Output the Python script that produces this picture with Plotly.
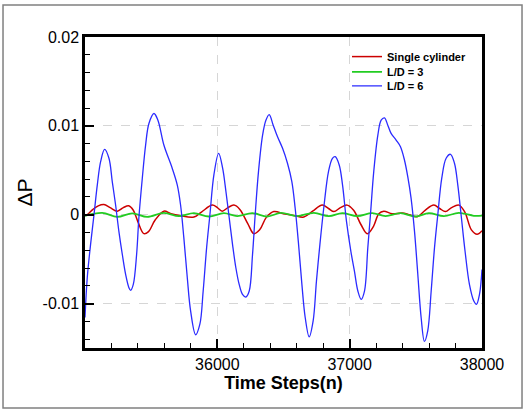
import plotly.graph_objects as go

# ---- data ----
blue_x = [35000, 35017, 35042, 35068, 35093, 35118, 35148, 35181, 35206, 35231,
          35256, 35282, 35307, 35332, 35345, 35365, 35390, 35407, 35433, 35458,
          35483, 35521, 35551, 35596, 35659, 35697, 35722, 35747, 35773, 35798,
          35836, 35868, 35893, 35919, 35944, 35974, 36010, 36040, 36065, 36090,
          36115, 36140, 36165, 36190, 36216, 36241, 36266, 36286, 36311, 36342,
          36367, 36392, 36422, 36455, 36493, 36530, 36563, 36588, 36614, 36639,
          36664, 36694, 36724, 36749, 36775, 36807, 36840, 36870, 36891, 36921,
          36946, 36976, 37010, 37036, 37062, 37087, 37112, 37137, 37157, 37182,
          37213, 37238, 37263, 37288, 37313, 37351, 37384, 37414, 37439, 37464,
          37490, 37515, 37540, 37565, 37590, 37616, 37641, 37666, 37696, 37729,
          37762, 37792, 37817, 37842, 37872, 37905, 37938, 37958, 37981, 38000]
blue_y = [-0.01157, -0.00709, -0.00336, 0.0, 0.00336, 0.00597, 0.00735, 0.00635, 0.00373, 0.00112,
          -0.00187, -0.00448, -0.00672, -0.00821, -0.00851, -0.00784, -0.00448, -0.00037, 0.00411, 0.00784,
          0.01027, 0.01139, 0.01064, 0.00784, 0.00523, 0.00336, 0.00112, -0.00261, -0.00709, -0.01082,
          -0.01351, -0.01232, -0.00859, -0.00373, 0.0, 0.00448, 0.00691, 0.00523, 0.00261, -0.00037,
          -0.00336, -0.00597, -0.00784, -0.00896, -0.00926, -0.00859, -0.00448, 0.0, 0.00485, 0.00896,
          0.01064, 0.01127, 0.01008, 0.00877, 0.00747, 0.00579, 0.00373, 0.00075, -0.00336, -0.00784,
          -0.01157, -0.01374, -0.01195, -0.00747, -0.00336, 0.00112, 0.00485, 0.00635, 0.00653, 0.0056,
          0.00336, -0.00075, -0.0042, -0.00635, -0.00859, -0.00952, -0.00859, -0.00373, 0.0, 0.00485,
          0.00896, 0.01064, 0.0109, 0.01008, 0.00915, 0.0084, 0.00765, 0.00616, 0.00429, 0.00187,
          -0.00187, -0.00672, -0.01157, -0.01426, -0.01306, -0.00859, -0.00373, 0.0, 0.00411, 0.00635,
          0.0068, 0.00579, 0.00336, 0.0, -0.00411, -0.00784, -0.00971, -0.01008, -0.00896, -0.00616]

red_x = [35000, 35017, 35060, 35100, 35143, 35190, 35244, 35290, 35330, 35365,
         35400, 35445, 35480, 35530, 35596, 35650, 35722, 35823, 35880, 35962,
         36000, 36037, 36080, 36125, 36170, 36230, 36276, 36320, 36370, 36427,
         36503, 36580, 36654, 36720, 36793, 36840, 36881, 36930, 36981, 37030,
         37085, 37133, 37180, 37220, 37258, 37321, 37397, 37450, 37510, 37570,
         37636, 37680, 37724, 37770, 37825, 37870, 37920, 37963, 38000]
red_y = [-0.0001, 0.0, 0.0006, 0.001, 0.00115, 0.0008, 0.0004, 0.0008, 0.001, 0.0005,
         -0.0008, -0.00213, -0.0019, -0.0006, 0.0004, 0.0001, -0.00012, -0.00026, 0.0003, 0.00108,
         0.0008, 0.0004, 0.0008, 0.00108, 0.0006, -0.001, -0.00213, -0.0017, -0.0003, 0.00035,
         0.0001, -0.0001, -0.00026, 0.0004, 0.00108, 0.0007, 0.00035, 0.0008, 0.00108, 0.0005,
         -0.0011, -0.00213, -0.0013, 0.0001, 0.0004, 0.0001, 0.0002, 0.0, -0.00023, 0.0005,
         0.00108, 0.0007, 0.00035, 0.0008, 0.00108, 0.0003, -0.0017, -0.0022, -0.0018]

green_x = [35000, 35130, 35244, 35357, 35470, 35596, 35710, 35823, 35936, 36050,
           36150, 36264, 36377, 36480, 36600, 36730, 36843, 36944, 37057, 37170,
           37271, 37384, 37498, 37598, 37712, 37825, 37938, 38000]
green_y = [-0.00012, 0.0002, -0.00024, 0.00016, -0.00024, 0.0002, -0.00016, 0.00018, -0.0002, 0.00018,
           -0.00015, 0.00018, -0.0002, 0.0002, -0.00015, 0.0002, -0.00015, 0.00018, -0.00015, 0.00018,
           -0.00015, 0.00018, -0.0002, 0.00018, -0.00015, 0.0002, -0.00012, -0.0001]

series_names = ["Single cylinder", "L/D = 3", "L/D = 6"]

x_tickvals = [35000, 36000, 37000, 38000]
x_ticktext = ["", "36000", "37000", "38000"]
y_tickvals = [-0.01, 0, 0.01, 0.02]
y_ticktext = ["-0.01", "0", "0.01", "0.02"]

x_title = "Time Steps(n)"
y_title = "ΔP"

FONT = "Liberation Sans, Arial, sans-serif"

fig = go.Figure()
fig.add_trace(go.Scatter(x=red_x, y=red_y, mode="lines", name=series_names[0],
                         line=dict(color="#cc0000", width=1.5, shape="spline"),
                         legend="legend", showlegend=True))
fig.add_trace(go.Scatter(x=green_x, y=green_y, mode="lines", name=series_names[1],
                         line=dict(color="#22cc22", width=1.8, shape="spline"),
                         legend="legend2", showlegend=True))
fig.add_trace(go.Scatter(x=blue_x, y=blue_y, mode="lines", name=series_names[2],
                         line=dict(color="#2b2bff", width=1.3, shape="spline"),
                         legend="legend3", showlegend=True))

leg_common = dict(xanchor="left", yanchor="middle", bgcolor="rgba(0,0,0,0)",
                  font=dict(family=FONT, size=11, color="black", weight="bold"),
                  borderwidth=0, tracegroupgap=0)
fig.update_layout(
    width=528, height=411,
    showlegend=True,
    paper_bgcolor="white", plot_bgcolor="white",
    margin=dict(l=85, r=46, t=37, b=63),
    font=dict(family=FONT, color="black"),
    legend=dict(x=0.66, y=0.937, **leg_common),
    legend2=dict(x=0.66, y=0.888, **leg_common),
    legend3=dict(x=0.66, y=0.843, **leg_common),
    xaxis=dict(range=[35000, 38000], tickmode="array", tickvals=x_tickvals, ticktext=x_ticktext,
               ticks="inside", ticklen=9, tickwidth=1.5, tickcolor="black",
               minor=dict(tickmode="linear", tick0=35000, dtick=200, ticks="inside",
                          ticklen=5, tickwidth=1, tickcolor="black", showgrid=False),
               showline=True, linewidth=2.5, linecolor="black", mirror=True,
               showgrid=True, gridcolor="#d6d6d6", gridwidth=1.3, griddash="dash",
               zeroline=False, tickfont=dict(size=16, family=FONT),
               title=dict(text=x_title, font=dict(size=18, family=FONT, weight="bold"), standoff=4)),
    yaxis=dict(range=[-0.015, 0.02], tickmode="array", tickvals=y_tickvals, ticktext=y_ticktext,
               ticks="inside", ticklen=9, tickwidth=1.5, tickcolor="black",
               minor=dict(tickmode="linear", tick0=0, dtick=0.002, ticks="inside",
                          ticklen=5, tickwidth=1, tickcolor="black", showgrid=False),
               showline=True, linewidth=2.5, linecolor="black", mirror=True,
               showgrid=True, gridcolor="#d6d6d6", gridwidth=1.3, griddash="dash",
               zeroline=False, tickfont=dict(size=16, family=FONT),
               title=dict(text=y_title, font=dict(size=21, family=FONT), standoff=5)),
    shapes=[dict(type="rect", xref="paper", yref="paper",
                 x0=-0.2065, x1=1.1008, y0=-0.1929, y1=1.1029,
                 line=dict(color="#808080", width=1.5), fillcolor="rgba(0,0,0,0)", layer="below")],
)

fig.write_html("out.html",
               config={"displayModeBar": False},
               post_script="document.body.style.margin='0';document.body.style.padding='0';")
